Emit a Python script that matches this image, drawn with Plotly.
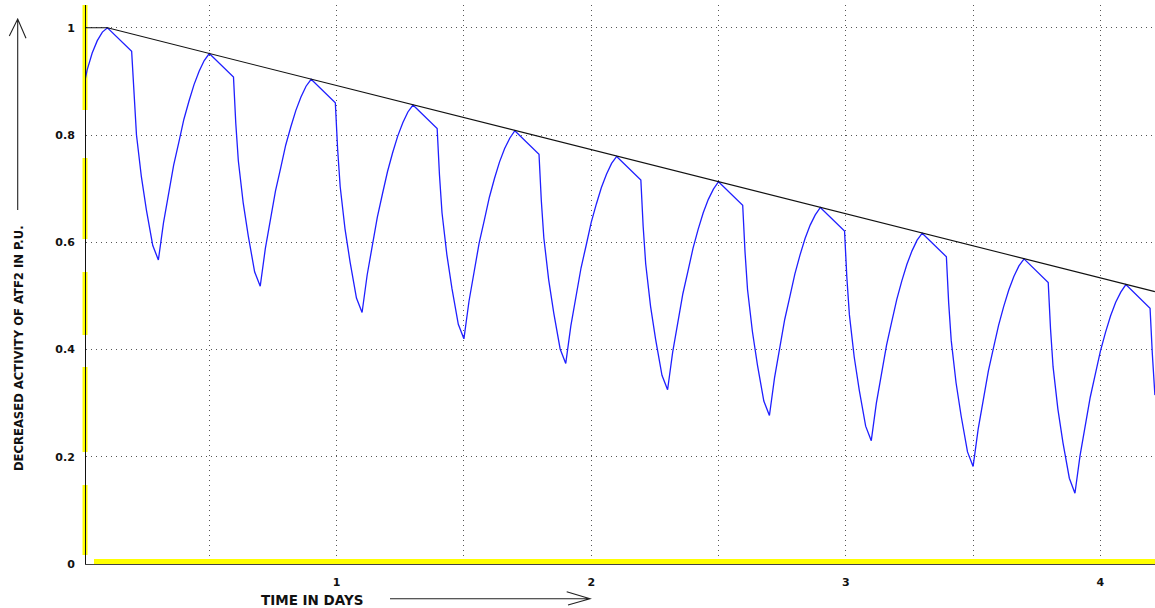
import plotly.graph_objects as go

# ATF2 activity over time (days), per-unit values
time_days = [
    0.0, 0.02, 0.04, 0.06, 0.08, 0.10,
    0.195, 0.204, 0.214, 0.233, 0.253, 0.278, 0.30,
    0.32, 0.34, 0.36, 0.38, 0.40, 0.42, 0.44, 0.46, 0.48, 0.50,
    0.595, 0.604, 0.614, 0.633, 0.653, 0.678, 0.70,
    0.72, 0.74, 0.76, 0.78, 0.80, 0.82, 0.84, 0.86, 0.88, 0.90,
    0.995, 1.004, 1.014, 1.033, 1.053, 1.078, 1.10,
    1.12, 1.14, 1.16, 1.18, 1.20, 1.22, 1.24, 1.26, 1.28, 1.30,
    1.395, 1.404, 1.414, 1.433, 1.453, 1.478, 1.50,
    1.52, 1.54, 1.56, 1.58, 1.60, 1.62, 1.64, 1.66, 1.68, 1.70,
    1.795, 1.804, 1.814, 1.833, 1.853, 1.878, 1.90,
    1.92, 1.94, 1.96, 1.98, 2.00, 2.02, 2.04, 2.06, 2.08, 2.10,
    2.195, 2.204, 2.214, 2.233, 2.253, 2.278, 2.30,
    2.32, 2.34, 2.36, 2.38, 2.40, 2.42, 2.44, 2.46, 2.48, 2.50,
    2.595, 2.604, 2.614, 2.633, 2.653, 2.678, 2.70,
    2.72, 2.74, 2.76, 2.78, 2.80, 2.82, 2.84, 2.86, 2.88, 2.90,
    2.995, 3.004, 3.014, 3.033, 3.053, 3.078, 3.10,
    3.12, 3.14, 3.16, 3.18, 3.20, 3.22, 3.24, 3.26, 3.28, 3.30,
    3.395, 3.404, 3.414, 3.433, 3.453, 3.478, 3.50,
    3.52, 3.54, 3.56, 3.58, 3.60, 3.62, 3.64, 3.66, 3.68, 3.70,
    3.795, 3.804, 3.814, 3.833, 3.853, 3.878, 3.90,
    3.92, 3.94, 3.96, 3.98, 4.00, 4.02, 4.04, 4.06, 4.08, 4.10,
    4.195, 4.204, 4.214,
]
activity = [
    0.875, 0.921, 0.953, 0.976, 0.992, 1.000,
    0.956, 0.870, 0.800, 0.723, 0.660, 0.594, 0.567,
    0.636, 0.694, 0.744, 0.786, 0.829, 0.863, 0.894, 0.919, 0.939, 0.952,
    0.908, 0.822, 0.752, 0.674, 0.612, 0.545, 0.518,
    0.588, 0.645, 0.696, 0.738, 0.781, 0.815, 0.846, 0.871, 0.891, 0.904,
    0.860, 0.774, 0.704, 0.625, 0.563, 0.496, 0.469,
    0.539, 0.597, 0.647, 0.690, 0.732, 0.767, 0.798, 0.823, 0.843, 0.856,
    0.812, 0.726, 0.655, 0.577, 0.514, 0.447, 0.420,
    0.490, 0.548, 0.599, 0.641, 0.684, 0.719, 0.750, 0.775, 0.794, 0.808,
    0.764, 0.678, 0.608, 0.530, 0.468, 0.401, 0.374,
    0.444, 0.501, 0.552, 0.594, 0.637, 0.671, 0.702, 0.727, 0.747, 0.760,
    0.716, 0.630, 0.560, 0.481, 0.419, 0.352, 0.325,
    0.395, 0.453, 0.504, 0.546, 0.589, 0.624, 0.655, 0.680, 0.699, 0.713,
    0.669, 0.583, 0.512, 0.434, 0.371, 0.304, 0.277,
    0.347, 0.405, 0.456, 0.498, 0.541, 0.576, 0.607, 0.632, 0.651, 0.665,
    0.621, 0.535, 0.465, 0.386, 0.324, 0.257, 0.230,
    0.300, 0.358, 0.408, 0.451, 0.493, 0.528, 0.559, 0.584, 0.604, 0.617,
    0.573, 0.487, 0.417, 0.338, 0.276, 0.209, 0.182,
    0.252, 0.310, 0.360, 0.403, 0.445, 0.480, 0.511, 0.536, 0.556, 0.569,
    0.525, 0.439, 0.368, 0.289, 0.226, 0.160, 0.132,
    0.202, 0.260, 0.311, 0.354, 0.397, 0.432, 0.463, 0.488, 0.507, 0.521,
    0.477, 0.391, 0.315,
]

# Envelope through the peaks
envelope_days = [0.0, 0.10, 4.214]
envelope_values = [1.0, 1.0, 0.508]

# Axis ticks
x_tick_vals = [0.5, 1.0, 1.5, 2.0, 2.5, 3.0, 3.5, 4.0]
x_tick_text = ["", "1", "", "2", "", "3", "", "4"]
y_tick_vals = [0.0, 0.2, 0.4, 0.6, 0.8, 1.0]
y_tick_text = ["0", "0.2", "0.4", "0.6", "0.8", "1"]

X_RANGE = [0.0157, 4.2144]
Y_RANGE = [0.0, 1.0425]

W, H = 1155, 608
ML, MR, MT, MB = 86, 0, 5, 44
PW, PH = W - ML - MR, H - MT - MB


def px(x):
    """pixel x -> paper x"""
    return (x - ML) / PW


def py(y):
    """pixel y -> paper y"""
    return (MT + PH - y) / PH


FONT = "DejaVu Sans"

fig = go.Figure()
fig.add_trace(go.Scatter(
    x=time_days, y=activity, mode="lines",
    line=dict(color="#1f1fff", width=1.3),
    showlegend=False, hoverinfo="skip",
))
fig.add_trace(go.Scatter(
    x=envelope_days, y=envelope_values, mode="lines",
    line=dict(color="#111111", width=1.1),
    showlegend=False, hoverinfo="skip",
))

shapes = []
# yellow highlight along the left axis (broken band)
for y_top, y_bot in [(5, 110), (158, 239), (272, 335), (367, 452), (485, 555)]:
    shapes.append(dict(type="line", xref="paper", yref="paper",
                       x0=px(85), x1=px(85), y0=py(y_top), y1=py(y_bot),
                       line=dict(color="#ffff00", width=5), layer="below"))
# yellow highlight along the bottom axis
shapes.append(dict(type="line", xref="paper", yref="paper",
                   x0=px(94), x1=1.0, y0=py(561.5), y1=py(561.5),
                   line=dict(color="#ffff00", width=5), layer="above"))
# arrow beside the y title
shapes.append(dict(type="path", xref="paper", yref="paper",
                   path=(f"M {px(17.7)},{py(210)} L {px(17.7)},{py(19)} "
                         f"M {px(9.3)},{py(36)} L {px(17.7)},{py(19)} L {px(26)},{py(38.3)}"),
                   line=dict(color="#222222", width=1.1)))
# arrow beside the x title
shapes.append(dict(type="path", xref="paper", yref="paper",
                   path=(f"M {px(390)},{py(598.7)} L {px(590)},{py(598.7)} "
                         f"M {px(566.7)},{py(591.7)} L {px(590)},{py(598.7)} L {px(568)},{py(605)}"),
                   line=dict(color="#222222", width=1.1)))

annotations = [
    dict(text="DECREASED ACTIVITY OF ATF2 IN P.U.", textangle=-90,
         xref="paper", yref="paper", x=px(19), y=py(348),
         xanchor="center", yanchor="middle", showarrow=False,
         font=dict(family=FONT, size=11.6, color="#111111", weight="bold")),
    dict(text="TIME IN DAYS",
         xref="paper", yref="paper", x=px(311.7), y=py(600),
         xanchor="center", yanchor="middle", showarrow=False,
         font=dict(family=FONT, size=13.5, color="#111111", weight="bold")),
]

fig.update_layout(
    width=W, height=H,
    margin=dict(l=ML, r=MR, t=MT, b=MB, pad=0),
    paper_bgcolor="white", plot_bgcolor="white",
    shapes=shapes, annotations=annotations,
    xaxis=dict(
        range=X_RANGE, tickmode="array", tickvals=x_tick_vals, ticktext=x_tick_text,
        showgrid=True, gridcolor="#555555", gridwidth=1, griddash="1px,4px",
        zeroline=False, showline=True, linecolor="#444444", linewidth=1,
        ticks="", ticklabelstandoff=8,
        tickfont=dict(family=FONT, size=11, color="#111111", weight="bold"),
    ),
    yaxis=dict(
        range=Y_RANGE, tickmode="array", tickvals=y_tick_vals, ticktext=y_tick_text,
        showgrid=True, gridcolor="#555555", gridwidth=1, griddash="1px,4px",
        zeroline=False, showline=True, linecolor="#111111", linewidth=1,
        ticks="", ticklabelstandoff=8,
        tickfont=dict(family=FONT, size=11, color="#111111", weight="bold"),
    ),
)

fig.write_html("out.html")
